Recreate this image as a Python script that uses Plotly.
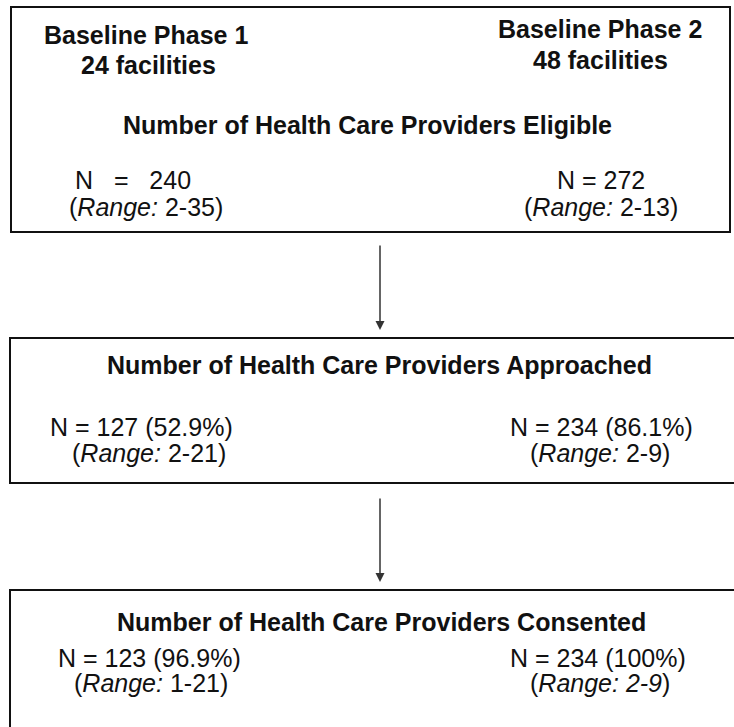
import plotly.graph_objects as go

W, H = 734, 727

# ---- data ----
phase_labels = ["Baseline Phase 1", "Baseline Phase 2"]
facilities = [24, 48]
stage_titles = [
    "Number of Health Care Providers Eligible",
    "Number of Health Care Providers Approached",
    "Number of Health Care Providers Consented",
]
n_phase1 = [240, 127, 123]
n_phase2 = [272, 234, 234]
pct_phase1 = [None, "52.9%", "96.9%"]
pct_phase2 = [None, "86.1%", "100%"]
range_phase1 = ["2-35", "2-21", "1-21"]
range_phase2 = ["2-13", "2-9", "2-9"]

# ---- layout positions (pixels) ----
boxes = [(11, 7, 730, 232), (10, 338, 760, 483), (10, 590, 760, 760)]
title_y = [125, 365, 622]
n_y = [180, 427, 658]
r_y = [207, 453, 683]
left_n_x = [133, 141, 149]
left_r_x = [146, 149, 151]
right_n_x = [601, 601, 598]
right_r_x = [601, 600, 600]
title_x = [367, 379, 381]
arrows = [(380, 244, 330), (380, 497, 582)]

FONT = "Liberation Sans, Arial, Helvetica, sans-serif"
FS = 25
fig = go.Figure()

for (x0, y0, x1, y1) in boxes:
    fig.add_shape(type="rect", x0=x0, y0=y0, x1=x1, y1=y1, xref="x", yref="y",
                  line=dict(color="#111111", width=2), fillcolor="rgba(0,0,0,0)")

def txt(x, y, s, size=FS, bold=False):
    if bold:
        s = "<b>" + s + "</b>"
    fig.add_annotation(x=x, y=y, text=s, showarrow=False, xref="x", yref="y",
                       xanchor="center", yanchor="middle",
                       font=dict(family=FONT, size=size, color="#111111"))

# header
txt(146, 35, phase_labels[0], bold=True)
txt(148, 65, f"{facilities[0]} facilities", bold=True)
txt(600, 29, phase_labels[1], bold=True)
txt(600, 60, f"{facilities[1]} facilities", bold=True)

NB = "\u00a0"
for i in range(3):
    txt(title_x[i], title_y[i], stage_titles[i], bold=True)
    if i == 0:
        s1 = f"N{NB*3}={NB*3}{n_phase1[i]}"
    else:
        s1 = f"N = {n_phase1[i]} ({pct_phase1[i]})"
    s2 = f"N = {n_phase2[i]}" + (f" ({pct_phase2[i]})" if pct_phase2[i] else "")
    txt(left_n_x[i], n_y[i], s1)
    txt(right_n_x[i], n_y[i], s2)
    txt(left_r_x[i], r_y[i], f"(<i>Range:</i> {range_phase1[i]})")
    if i == 2:
        txt(right_r_x[i], r_y[i], f"(<i>Range: {range_phase2[i]}</i>)")
    else:
        txt(right_r_x[i], r_y[i], f"(<i>Range:</i> {range_phase2[i]})")

for (x, y0, y1) in arrows:
    fig.add_annotation(x=x, y=y1, ax=x, ay=y0, xref="x", yref="y", axref="x", ayref="y",
                       showarrow=True, arrowhead=2, arrowsize=1.2, arrowwidth=1.5,
                       arrowcolor="#333333", text="")

fig.update_xaxes(range=[0, W], visible=False, fixedrange=True)
fig.update_yaxes(range=[H, 0], visible=False, fixedrange=True)
fig.update_layout(width=W, height=H, margin=dict(l=0, r=0, t=0, b=0),
                  plot_bgcolor="white", paper_bgcolor="white", showlegend=False)

fig.write_html("out.html", config={"displayModeBar": False},
               post_script="document.body.style.margin='0';document.body.style.overflow='hidden';")
